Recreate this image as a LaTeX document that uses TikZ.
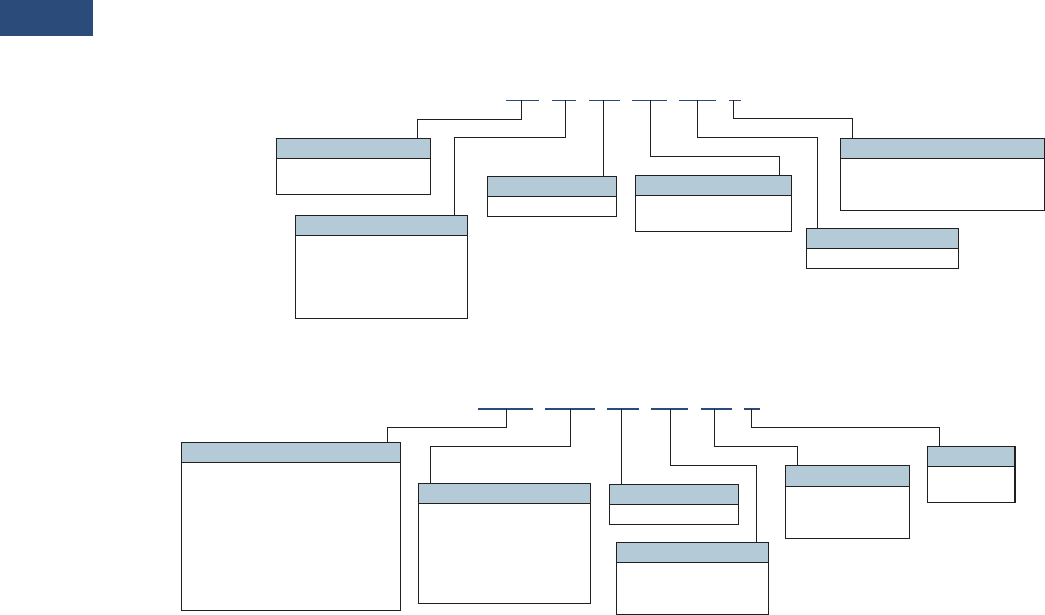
\documentclass[tikz,border=0pt]{standalone}
\usetikzlibrary{fit}
\definecolor{hdrc}{HTML}{B4CAD7}
\definecolor{lnc}{HTML}{231F20}
\definecolor{navyc}{HTML}{2B4C7A}
\tikzset{
  ln/.style={draw=lnc, line width=1.3pt},
  boxst/.style={draw=lnc, line width=1.3pt, inner sep=0pt, rectangle},
  hdr/.style={fill=hdrc},
  seg/.style={draw=navyc, line width=1.3pt},
  segb/.style={draw=navyc, line width=1.9pt},
}
\newcommand\cbox[6]{%
  \coordinate (#1nw) at (#2,#3);
  \coordinate (#1se) at (#4,#5);
  \fill[hdr] (#2,#3) rectangle (#4,#6);
  \draw[ln] (#2,#6) -- (#4,#6);
  \node[boxst, fit=(#1nw)(#1se)] (#1) {};
}
\begin{document}
\begin{tikzpicture}[x=1pt,y=-1pt]
\useasboundingbox (0,0) rectangle (1045,615);
\node[fill=navyc, inner sep=0pt, minimum width=93pt, minimum height=36pt, anchor=north west] (logo) at (0,0) {};

% ---------- top group ----------
\draw[seg] (506,100.3) -- (538.7,100.3);
\draw[seg] (552,100.3) -- (576,100.3);
\draw[seg] (589,100.3) -- (620,100.3);
\draw[seg] (632,100.3) -- (667,100.3);
\draw[seg] (679,100.3) -- (716,100.3);
\draw[seg] (729,100.3) -- (741,100.3);
\coordinate (t1) at (521.3,100.3);
\coordinate (t2) at (565.7,100.3);
\coordinate (t3) at (603.7,100.3);
\coordinate (t4) at (650.3,100.3);
\coordinate (t5) at (697.3,100.3);
\coordinate (t6) at (733.3,100.3);

\cbox{a1}{276.3}{138.3}{430.7}{194.3}{158.3}
\cbox{a2}{295.3}{215.3}{467.3}{318.3}{235.3}
\cbox{a3}{487.3}{176.3}{616.3}{216.3}{196.3}
\cbox{a4}{635.3}{175.3}{791.3}{231.3}{195.3}
\cbox{a5}{806.3}{228.3}{958.3}{268.3}{248.3}
\cbox{a6}{840.3}{138.3}{1044.3}{210.3}{158.3}

\coordinate (ka1) at (417.3,119.3);
\coordinate (ka2) at (454.3,137.3);
\coordinate (ka4) at (779.3,156.3);
\coordinate (ka5) at (817.3,137.3);
\coordinate (ka6) at (852.3,118.3);
\draw[ln] (t1) |- (ka1) -- (ka1 |- a1.north);
\draw[ln] (t2) |- (ka2) -- (ka2 |- a2.north);
\draw[ln] (t3) -- (t3 |- a3.north);
\draw[ln] (t4) |- (ka4) -- (ka4 |- a4.north);
\draw[ln] (t5) |- (ka5) -- (ka5 |- a5.north);
\draw[ln] (t6) |- (ka6) -- (ka6 |- a6.north);

% ---------- bottom group ----------
\draw[segb] (478,409) -- (533,409);
\draw[segb] (545,409) -- (595,409);
\draw[segb] (607,409) -- (639,409);
\draw[segb] (651,409) -- (688,409);
\draw[segb] (701,409) -- (732,409);
\draw[segb] (744,409) -- (760,409);
\coordinate (u1) at (506.3,409);
\coordinate (u2) at (570.3,409);
\coordinate (u3) at (621.3,409);
\coordinate (u4) at (670.3,409);
\coordinate (u5) at (714.3,409);
\coordinate (u6) at (751.7,409);

\cbox{b1}{181.3}{442.3}{400.3}{610.3}{462.3}
\cbox{b2}{418.3}{483.3}{590.3}{603.3}{503.3}
\cbox{b3}{609.3}{484.3}{738.3}{524.3}{504.3}
\cbox{b4}{616.3}{542.3}{768.3}{614.3}{562.3}
\cbox{b5}{785.3}{465.3}{909.3}{538.3}{486.3}
\cbox{b6}{927.3}{446.3}{1015}{502.3}{466.3}

\coordinate (kb1) at (387.3,427.3);
\coordinate (kb2) at (430.3,446.3);
\coordinate (kb4) at (756.3,465.3);
\coordinate (kb5) at (797.3,446.3);
\coordinate (kb6) at (939.7,427.3);
\draw[ln] (u1) |- (kb1) -- (kb1 |- b1.north);
\draw[ln] (u2) |- (kb2) -- (kb2 |- b2.north);
\draw[ln] (u3) -- (u3 |- b3.north);
\draw[ln] (u4) |- (kb4) -- (kb4 |- b4.north);
\draw[ln] (u5) |- (kb5) -- (kb5 |- b5.north);
\draw[ln] (u6) |- (kb6) -- (kb6 |- b6.north);
\end{tikzpicture}
\end{document}
